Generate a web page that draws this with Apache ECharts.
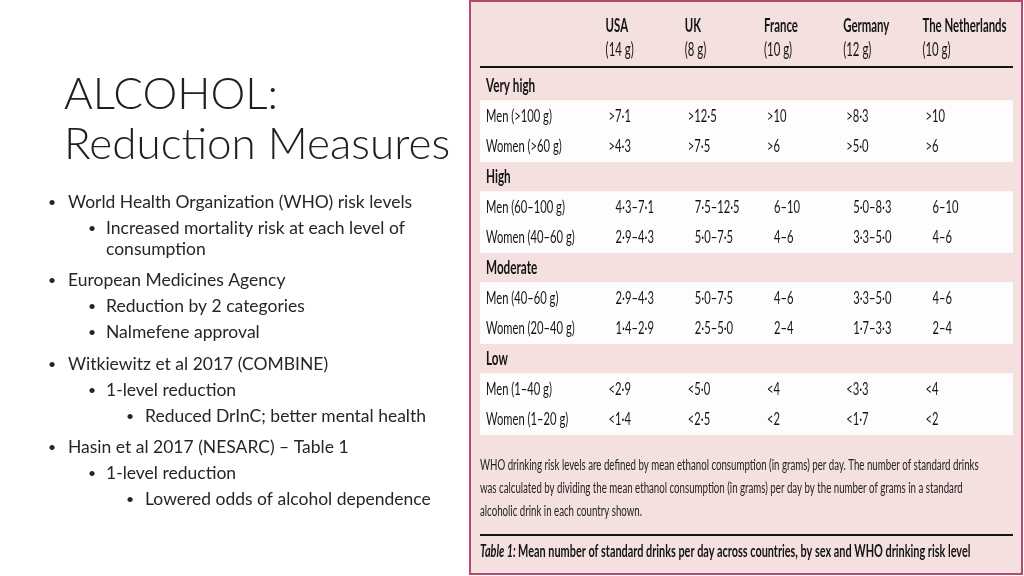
<!DOCTYPE html>
<html>
<head>
<meta charset="utf-8">
<script src="https://cdn.jsdelivr.net/npm/echarts@6/dist/echarts.min.js"></script>
<style>
html,body{margin:0;padding:0;background:#ffffff;}
#main{width:1024px;height:576px;}
</style>
</head>
<body>
<div id="main"></div>
<script>
// ---------- data ----------
const countries = ['USA', 'UK', 'France', 'Germany', 'The Netherlands'];
const drinkGrams = ['(14 g)', '(8 g)', '(10 g)', '(12 g)', '(10 g)'];
const riskLevels = ['Very high', 'High', 'Moderate', 'Low'];
const menRanges = ['Men (>100 g)', 'Men (60–100 g)', 'Men (40–60 g)', 'Men (1–40 g)'];
const womenRanges = ['Women (>60 g)', 'Women (40–60 g)', 'Women (20–40 g)', 'Women (1–20 g)'];
// per country: men, women for each risk level in order
const usaDrinks = ['>7·1', '>4·3', '4·3–7·1', '2·9–4·3', '2·9–4·3', '1·4–2·9', '<2·9', '<1·4'];
const ukDrinks = ['>12·5', '>7·5', '7·5–12·5', '5·0–7·5', '5·0–7·5', '2·5–5·0', '<5·0', '<2·5'];
const franceDrinks = ['>10', '>6', '6–10', '4–6', '4–6', '2–4', '<4', '<2'];
const germanyDrinks = ['>8·3', '>5·0', '5·0–8·3', '3·3–5·0', '3·3–5·0', '1·7–3·3', '<3·3', '<1·7'];
const netherlandsDrinks = ['>10', '>6', '6–10', '4–6', '4–6', '2–4', '<4', '<2'];
const footnote = [
  'WHO drinking risk levels are defined by mean ethanol consumption (in grams) per day. The number of standard drinks',
  'was calculated by dividing the mean ethanol consumption (in grams) per day by the number of grams in a standard',
  'alcoholic drink in each country shown.'
];
const captionLead = 'Table 1:';
const captionText = 'Mean number of standard drinks per day across countries, by sex and WHO drinking risk level';
const slideTitle = ['ALCOHOL:', 'Reduction Measures'];
const bullets = [
  [1, 'World Health Organization (WHO) risk levels'],
  [2, 'Increased mortality risk at each level of', 'consumption'],
  [1, 'European Medicines Agency'],
  [2, 'Reduction by 2 categories'],
  [2, 'Nalmefene approval'],
  [1, 'Witkiewitz et al 2017 (COMBINE)'],
  [2, '1-level reduction'],
  [3, 'Reduced DrInC; better mental health'],
  [1, 'Hasin et al 2017 (NESARC) – Table 1'],
  [2, '1-level reduction'],
  [3, 'Lowered odds of alcohol dependence']
];

// ---------- build ----------
const allDrinks = [usaDrinks, ukDrinks, franceDrinks, germanyDrinks, netherlandsDrinks];
const yCats = [];
const rowLabelItems = [];
riskLevels.forEach((lv, i) => {
  yCats.push(lv, menRanges[i], womenRanges[i]);
  rowLabelItems.push({ v: [0, i * 3], t: lv, h: true });
  rowLabelItems.push({ v: [0, i * 3 + 1], t: menRanges[i], h: false });
  rowLabelItems.push({ v: [0, i * 3 + 2], t: womenRanges[i], h: false });
});

const TF = "Lato, 'Open Sans', sans-serif";
const SF = "Lato, 'Open Sans', sans-serif";
const INK = '#141414';

const cellItems = [];
allDrinks.forEach((arr, c) => {
  arr.forEach((txt, k) => {
    const level = Math.floor(k / 2);
    cellItems.push({ v: [c, level * 3 + 1 + (k % 2)], t: txt });
  });
});

// bullet graphics (slide text)
const bulletGraphics = [];
const levelX = { 1: [48, 68], 2: [88, 106], 3: [126, 145] };
const lineYs = [202, 228, 249, 280, 306, 332, 364, 390, 416, 447, 473, 499];
let li = 0;
bullets.forEach(b => {
  const lv = b[0];
  bulletGraphics.push({
    type: 'text', style: { text: '•', x: levelX[lv][0], y: lineYs[li], fill: '#262626',
      font: '14px ' + SF, verticalAlign: 'middle', align: 'left' } });
  for (let j = 1; j < b.length; j++) {
    bulletGraphics.push({
      type: 'text', style: { text: b[j], x: levelX[lv][1], y: lineYs[li], fill: '#262626',
        font: '17.5px ' + SF, verticalAlign: 'middle', align: 'left' } });
    li++;
  }
});

const chart = echarts.init(document.getElementById('main'), null, { renderer: 'canvas' });

const option = {
  backgroundColor: '#ffffff',
  animation: false,
  title: {
    text: slideTitle.join('\n'),
    left: 59, top: 65,
    textStyle: { fontFamily: SF, fontWeight: 300, fontSize: 44, lineHeight: 50, color: '#1f1f1f' }
  },
  graphic: [
    { type: 'rect', z: -10, shape: { x: 470, y: 1, width: 552, height: 573 },
      style: { fill: '#f4e1df', stroke: '#b44a72', lineWidth: 2 } },
    { type: 'line', shape: { x1: 480, y1: 67, x2: 1013, y2: 67 }, style: { stroke: INK, lineWidth: 2 } },
    { type: 'line', shape: { x1: 480, y1: 535, x2: 1013, y2: 535 }, style: { stroke: INK, lineWidth: 2 } },
    { type: 'text', x: 480, y: 453, scaleX: 0.625, style: { text: footnote.join('\n'), x: 0, y: 0, fill: '#222222',
        font: '15.5px ' + TF, lineHeight: 23, align: 'left', verticalAlign: 'top' } },
    { type: 'text', x: 480, y: 552, scaleX: 0.66, style: {
        text: '{a|' + captionLead + '} {b|' + captionText + '}', x: 0, y: 0, verticalAlign: 'middle',
        rich: {
          a: { font: 'italic bold 16.5px ' + TF, fill: INK },
          b: { font: 'bold 16.5px ' + TF, fill: INK }
        } } }
  ].concat(bulletGraphics),
  grid: { left: 565, right: 63, top: 71, bottom: 141 },
  xAxis: {
    type: 'category', position: 'top', data: countries,
    axisLine: { show: false }, axisTick: { show: false }, splitLine: { show: false },
    axisLabel: { show: false }
  },
  yAxis: {
    type: 'category', inverse: true, data: yCats,
    axisLine: { show: false }, axisTick: { show: false }, splitLine: { show: false },
    axisLabel: { show: false }
  },
  series: [
    { // white bands behind each risk level's rows
      type: 'custom', z: 1, silent: true,
      data: riskLevels.map((lv, i) => [0, i * 3 + 1]),
      renderItem: (params, api) => {
        const row = api.value(1);
        const h = api.size([0, 1])[1];
        const yTop = api.coord([0, row])[1] - h / 2 - 1;
        const yBot = api.coord([0, row + 1])[1] + h / 2;
        return { type: 'rect', shape: { x: 480, y: yTop, width: 533, height: yBot - yTop },
          style: { fill: '#fefcfc' } };
      }
    },
    { // column headers
      type: 'custom', z: 5, silent: true,
      data: countries.map((c, i) => [i, 0]),
      renderItem: (params, api) => {
        const i = params.dataIndex;
        const p = api.coord([api.value(0), api.value(1)]);
        return { type: 'group', children: [
          { type: 'text', x: p[0] + 1, y: p[1] - 60, scaleX: 0.6,
            style: { text: countries[i], fill: INK, font: 'bold 19px ' + TF, align: 'left', verticalAlign: 'middle' } },
          { type: 'text', x: p[0] + 1, y: p[1] - 36, scaleX: 0.6,
            style: { text: drinkGrams[i], fill: INK, font: '19px ' + TF, align: 'left', verticalAlign: 'middle' } }
        ] };
      }
    },
    { // row labels and risk-level headings
      type: 'custom', z: 5, silent: true,
      data: rowLabelItems.map(d => d.v),
      renderItem: (params, api) => {
        const d = rowLabelItems[params.dataIndex];
        const p = api.coord([api.value(0), api.value(1)]);
        return { type: 'text', x: params.coordSys.x - 79, y: p[1], scaleX: d.h ? 0.65 : 0.64,
          style: { text: d.t, fill: INK, font: (d.h ? 'bold 18px ' : '17.5px ') + TF,
            align: 'left', verticalAlign: 'middle' } };
      }
    },
    { // table cells
      type: 'custom', z: 5, silent: true,
      data: cellItems.map(d => d.v),
      renderItem: (params, api) => {
        const d = cellItems[params.dataIndex];
        const p = api.coord([api.value(0), api.value(1)]);
        const isRange = d.t.indexOf('–') >= 0;
        return { type: 'text', x: p[0] + (isRange ? 11 : 4), y: p[1], scaleX: 0.64,
          style: { text: d.t, fill: INK, font: '17.5px ' + TF, align: 'left', verticalAlign: 'middle' } };
      }
    }
  ]
};
chart.setOption(option);
</script>
</body>
</html>
